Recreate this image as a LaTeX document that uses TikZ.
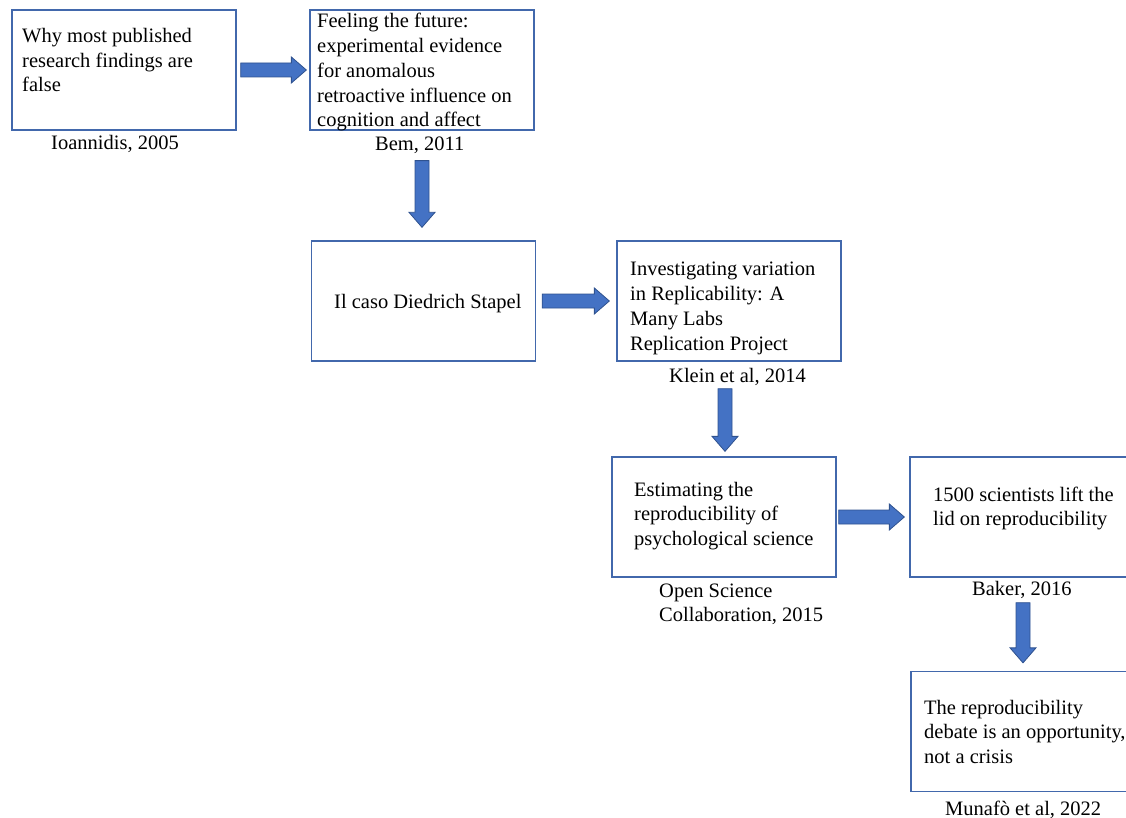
\documentclass[tikz,border=0pt]{standalone}
\usepackage{fontspec}
\setmainfont{Liberation Serif}
\usetikzlibrary{calc}
\definecolor{boxline}{RGB}{66,104,172}
\definecolor{arrowfill}{RGB}{68,114,196}
\definecolor{arrowline}{RGB}{47,82,143}
\newcommand{\mltext}[1]{\parbox[t]{300pt}{\raggedright #1}}
\newcommand{\harr}[2]{\path[blockarrow] let \p1=(#1), \p2=(#2) in
  (\x1,{\y1+7pt}) -- ({\x2-15pt},{\y1+7pt}) -- ({\x2-15pt},{\y1+13pt}) -- (\x2,\y1)
  -- ({\x2-15pt},{\y1-13pt}) -- ({\x2-15pt},{\y1-7pt}) -- (\x1,{\y1-7pt}) -- cycle;}
\newcommand{\varr}[2]{\path[blockarrow] let \p1=(#1), \p2=(#2) in
  ({\x1-7pt},\y1) -- ({\x1-7pt},{\y2+15pt}) -- ({\x1-13pt},{\y2+15pt}) -- (\x1,\y2)
  -- ({\x1+13pt},{\y2+15pt}) -- ({\x1+7pt},{\y2+15pt}) -- ({\x1+7pt},\y1) -- cycle;}
\begin{document}
\begin{tikzpicture}[x=1pt,y=-1pt,
  box/.style={draw=boxline,line width=1.3pt,minimum width=224pt,minimum height=120pt,inner sep=0pt},
  txt/.style={anchor=base west,inner sep=0pt,font=\fontsize{20.5}{24.7}\selectfont},
  blockarrow/.style={fill=arrowfill,draw=arrowline,line width=0.8pt}]
\useasboundingbox (0,0) rectangle (1126,818);
\clip (0,0) rectangle (1126,818);
% boxes
\node[box] (A) at (124,70) {};
\node[box] (B) at (422,70) {};
\node[box] (C) at (423.5,301) {};
\node[box] (D) at (729,301) {};
\node[box] (E) at (724,517) {};
\node[box] (F) at (1022,517) {};
\node[box] (G) at (1023,731.5) {};
% box texts
\node[txt] (At) at (22,42.5) {\mltext{Why most published\\research findings are\\false}};
\node[txt] (Bt) at (317,28) {\mltext{Feeling the future:\\experimental evidence\\for anomalous\\retroactive influence on\\cognition and affect}};
\node[txt] (Ct) at (334,308) {Il caso Diedrich Stapel};
\node[txt] (Dt) at (630,276) {\mltext{Investigating variation\\in Replicability: A\\Many Labs\\Replication Project}};
\node[txt] (Et) at (634,496) {\mltext{Estimating the\\reproducibility of\\psychological science}};
\node[txt] (Ft) at (933,501) {\mltext{1500 scientists lift the\\lid on reproducibility}};
\node[txt] (Gt) at (924,714) {\mltext{The reproducibility\\debate is an opportunity,\\not a crisis}};
% labels
\node[txt] (Al) at (51,149.5) {Ioannidis, 2005};
\node[txt] (Bl) at (375,150.5) {Bem, 2011};
\node[txt] (Dl) at (669,382) {Klein et al, 2014};
\node[txt] (El) at (659,597) {\mltext{Open Science\\Collaboration, 2015}};
\node[txt] (Fl) at (972,595) {Baker, 2016};
\node[txt] (Gl) at (945,815) {Munafò et al, 2022};
% arrow end points
\coordinate (ab1) at ($(A.east)+(4,0)$);
\coordinate (ab2) at ($(B.west)+(-3,0)$);
\coordinate (bc1) at ($(B.south)+(0,30)$);
\coordinate (bc2) at ($(B.south |- C.north)+(0,-13)$);
\coordinate (cd1) at ($(C.east)+(6,0)$);
\coordinate (cd2) at ($(D.west)+(-7,0)$);
\coordinate (de1) at ($(E.north |- D.south)+(1,27)$);
\coordinate (de2) at ($(E.north)+(1,-5)$);
\coordinate (ef1) at ($(E.east)+(2,0)$);
\coordinate (ef2) at ($(F.west)+(-5,0)$);
\coordinate (fg1) at ($(G.north |- F.south)+(0,25)$);
\coordinate (fg2) at ($(G.north)+(0,-8)$);
\harr{ab1}{ab2}
\varr{bc1}{bc2}
\harr{cd1}{cd2}
\varr{de1}{de2}
\harr{ef1}{ef2}
\varr{fg1}{fg2}
\end{tikzpicture}
\end{document}
